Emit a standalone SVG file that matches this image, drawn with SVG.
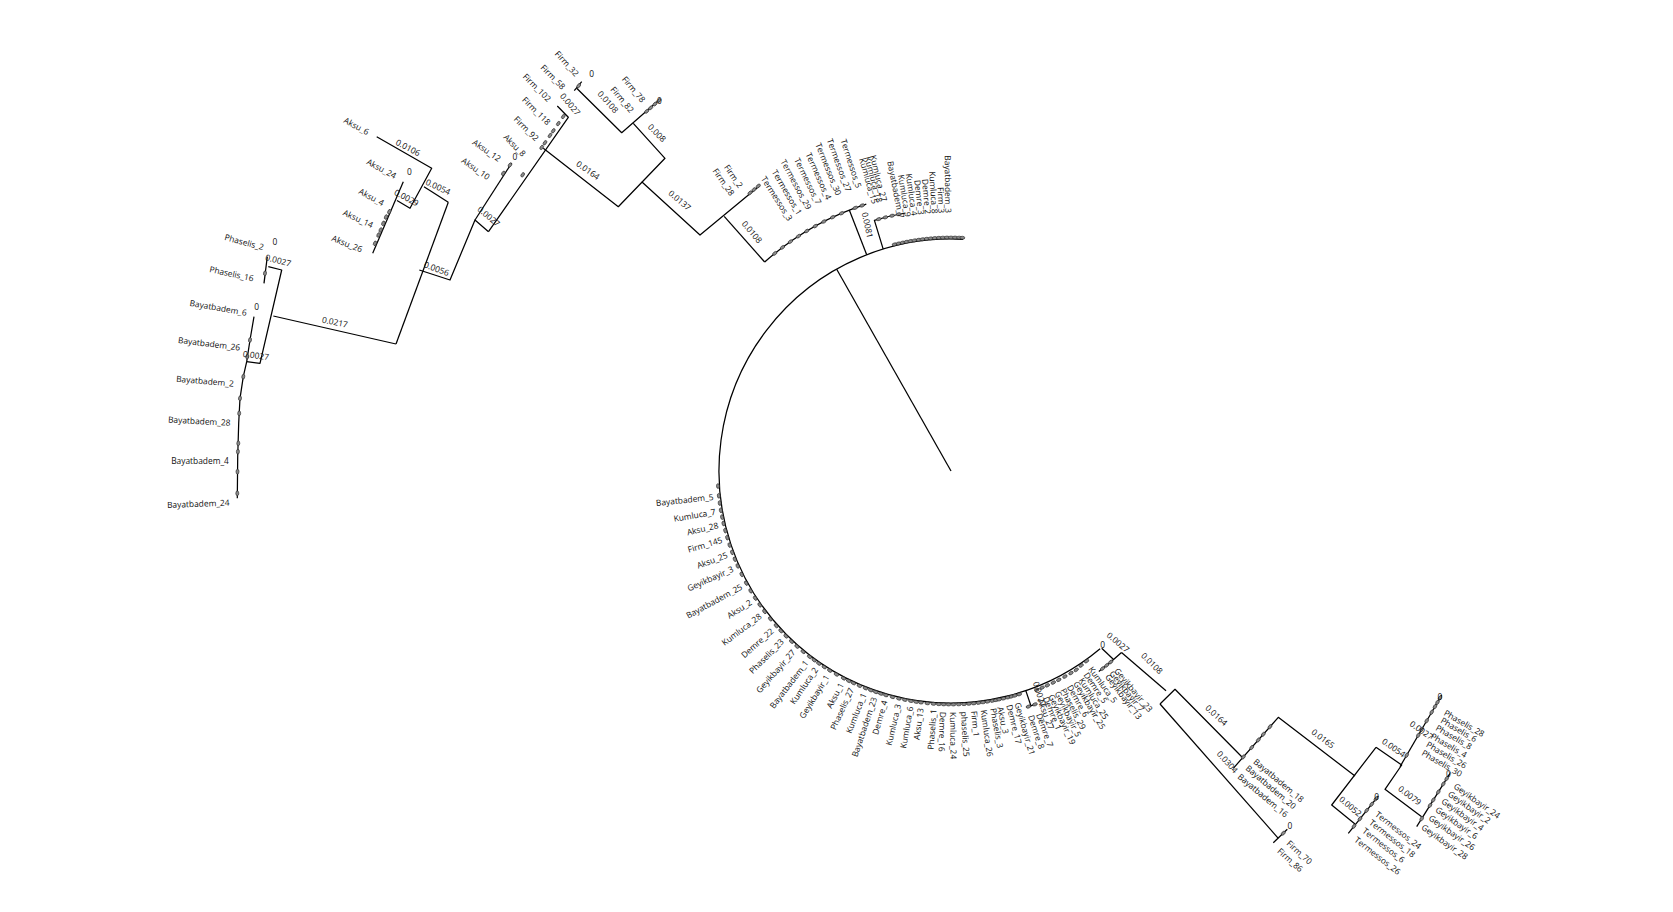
<svg xmlns="http://www.w3.org/2000/svg" width="1673" height="912" viewBox="0 0 1673 912">
<defs>
<style>
.e{stroke:#000;stroke-width:1.25;fill:none;stroke-linejoin:round}
.t{font-family:"Open Sans","Liberation Sans",Arial,sans-serif;font-size:8.4px;fill:#111;dominant-baseline:central}
.c{text-anchor:middle}
.f{text-anchor:end}
.lf{fill:#8a8a8a;stroke:#222;stroke-width:0.6}
</style>
<ellipse id="o" cx="0" cy="0" rx="1.5" ry="2.4" class="lf"/>
</defs>
<rect width="1673" height="912" fill="#fff"/>

<g id="connectors" class="e">
<path d="M951,471 L836.7,269.3"/>
<path d="M1100.1,648.7 A232,232 0 1 1 963.1,239.3"/>
<path d="M764.7,262 A280,280 0 0 1 866.3,204.1"/>
<path d="M866.7,254.8 L849.3,210.1"/>
<path d="M883.2,249.1 L874.4,220.4 A262,262 0 0 1 905.5,213"/>
<path d="M376.7,136.7 L431.7,168.3 L410,208.3 L397,200.5"/>
<path d="M424,186.7 L448.3,202.3"/>
<path d="M403.3,181.7 L372.7,253.3"/>
<path d="M396,344 L448.3,202.3"/>
<path d="M273.3,316 L396,344"/>
<path d="M419.3,270 L450,280 L475,220 L488.5,231.7"/>
<path d="M475,220 L511.7,163"/>
<path d="M268.3,266.7 L281.7,270 L260,363.3 L246.7,361.7"/>
<path d="M267.3,256.7 L264,283.3"/>
<path d="M254,316.7 L250,340 L246.7,361.7 L243.3,376.7 L240,398.3 L238.7,423.3 L237.7,456.7 L237.3,498.3"/>
<path d="M488.5,231.7 L568.3,117.3 L557.3,106"/>
<path d="M574.3,90.7 L581.7,81.7"/>
<path d="M576.7,88.3 L621.7,132.7 L660,99.3"/>
<path d="M633.3,123.3 L665,158.3 L618.3,206.7 L543.3,148.3"/>
<path d="M641.7,181.7 L700,235 L759.3,186"/>
<path d="M724.2,216.4 L764.7,262"/>
<path d="M1101.7,648.3 L1113.3,659.3"/>
<path d="M1121.5,652.5 A249,249 0 0 1 1098.8,671.4"/>
<path d="M1121.5,652.5 L1166,690.7"/>
<path d="M1160,704 L1175,689.3 L1242,757"/>
<path d="M1233.3,768.3 L1278.3,717.3 L1355,776"/>
<path d="M1160,704 L1278.3,838.3"/>
<path d="M1273.3,842.7 L1287.3,829.3"/>
<path d="M1376,747.3 L1331.7,805 L1355,824"/>
<path d="M1348.3,833.3 L1378.3,796"/>
<path d="M1376,747.3 L1401.7,765 L1385,789.3 L1421.7,816.7"/>
<path d="M1400,766.7 L1441.7,695"/>
<path d="M1416.7,826.7 L1450,773.3"/>
<path d="M1025.8,690.6 L1030.9,705.8"/>
<path d="M1036.6,703.8 A248,248 0 0 1 1026.4,707.2"/>
</g>

<g id="leaf-marks">
<use href="#o" transform="rotate(176.3 951 471) translate(1184.5 471)"/>
<use href="#o" transform="rotate(173.9 951 471) translate(1184.5 471)"/>
<use href="#o" transform="rotate(172.1 951 471) translate(1184.5 471)"/>
<use href="#o" transform="rotate(170.3 951 471) translate(1184.5 471)"/>
<use href="#o" transform="rotate(168.6 951 471) translate(1184.5 471)"/>
<use href="#o" transform="rotate(167 951 471) translate(1184.5 471)"/>
<use href="#o" transform="rotate(165.2 951 471) translate(1184.5 471)"/>
<use href="#o" transform="rotate(163.4 951 471) translate(1184.5 471)"/>
<use href="#o" transform="rotate(161.5 951 471) translate(1184.5 471)"/>
<use href="#o" transform="rotate(159.6 951 471) translate(1184.5 471)"/>
<use href="#o" transform="rotate(157.8 951 471) translate(1184.5 471)"/>
<use href="#o" transform="rotate(156 951 471) translate(1184.5 471)"/>
<use href="#o" transform="rotate(153.7 951 471) translate(1184.5 471)"/>
<use href="#o" transform="rotate(151.3 951 471) translate(1184.5 471)"/>
<use href="#o" transform="rotate(149.1 951 471) translate(1184.5 471)"/>
<use href="#o" transform="rotate(147 951 471) translate(1184.5 471)"/>
<use href="#o" transform="rotate(145 951 471) translate(1184.5 471)"/>
<use href="#o" transform="rotate(143 951 471) translate(1184.5 471)"/>
<use href="#o" transform="rotate(140.7 951 471) translate(1184.5 471)"/>
<use href="#o" transform="rotate(138.5 951 471) translate(1184.5 471)"/>
<use href="#o" transform="rotate(136.8 951 471) translate(1184.5 471)"/>
<use href="#o" transform="rotate(135 951 471) translate(1184.5 471)"/>
<use href="#o" transform="rotate(133.1 951 471) translate(1184.5 471)"/>
<use href="#o" transform="rotate(131.3 951 471) translate(1184.5 471)"/>
<use href="#o" transform="rotate(129.3 951 471) translate(1184.5 471)"/>
<use href="#o" transform="rotate(127.3 951 471) translate(1184.5 471)"/>
<use href="#o" transform="rotate(125.9 951 471) translate(1184.5 471)"/>
<use href="#o" transform="rotate(124.5 951 471) translate(1184.5 471)"/>
<use href="#o" transform="rotate(122.9 951 471) translate(1184.5 471)"/>
<use href="#o" transform="rotate(121.3 951 471) translate(1184.5 471)"/>
<use href="#o" transform="rotate(119.4 951 471) translate(1184.5 471)"/>
<use href="#o" transform="rotate(117.4 951 471) translate(1184.5 471)"/>
<use href="#o" transform="rotate(116 951 471) translate(1184.5 471)"/>
<use href="#o" transform="rotate(114.7 951 471) translate(1184.5 471)"/>
<use href="#o" transform="rotate(113.1 951 471) translate(1184.5 471)"/>
<use href="#o" transform="rotate(111.5 951 471) translate(1184.5 471)"/>
<use href="#o" transform="rotate(110.1 951 471) translate(1184.5 471)"/>
<use href="#o" transform="rotate(108.8 951 471) translate(1184.5 471)"/>
<use href="#o" transform="rotate(107.5 951 471) translate(1184.5 471)"/>
<use href="#o" transform="rotate(106.2 951 471) translate(1184.5 471)"/>
<use href="#o" transform="rotate(104.5 951 471) translate(1184.5 471)"/>
<use href="#o" transform="rotate(102.9 951 471) translate(1184.5 471)"/>
<use href="#o" transform="rotate(101.4 951 471) translate(1184.5 471)"/>
<use href="#o" transform="rotate(99.9 951 471) translate(1184.5 471)"/>
<use href="#o" transform="rotate(98.6 951 471) translate(1184.5 471)"/>
<use href="#o" transform="rotate(97.4 951 471) translate(1184.5 471)"/>
<use href="#o" transform="rotate(95.8 951 471) translate(1184.5 471)"/>
<use href="#o" transform="rotate(94.3 951 471) translate(1184.5 471)"/>
<use href="#o" transform="rotate(93 951 471) translate(1184.5 471)"/>
<use href="#o" transform="rotate(91.8 951 471) translate(1184.5 471)"/>
<use href="#o" transform="rotate(90.6 951 471) translate(1184.5 471)"/>
<use href="#o" transform="rotate(89.4 951 471) translate(1184.5 471)"/>
<use href="#o" transform="rotate(88.1 951 471) translate(1184.5 471)"/>
<use href="#o" transform="rotate(86.8 951 471) translate(1184.5 471)"/>
<use href="#o" transform="rotate(85.6 951 471) translate(1184.5 471)"/>
<use href="#o" transform="rotate(84.4 951 471) translate(1184.5 471)"/>
<use href="#o" transform="rotate(83.2 951 471) translate(1184.5 471)"/>
<use href="#o" transform="rotate(82.1 951 471) translate(1184.5 471)"/>
<use href="#o" transform="rotate(81 951 471) translate(1184.5 471)"/>
<use href="#o" transform="rotate(79.8 951 471) translate(1184.5 471)"/>
<use href="#o" transform="rotate(78.9 951 471) translate(1184.5 471)"/>
<use href="#o" transform="rotate(78.1 951 471) translate(1184.5 471)"/>
<use href="#o" transform="rotate(77 951 471) translate(1184.5 471)"/>
<use href="#o" transform="rotate(75.9 951 471) translate(1184.5 471)"/>
<use href="#o" transform="rotate(75 951 471) translate(1184.5 471)"/>
<use href="#o" transform="rotate(74.1 951 471) translate(1184.5 471)"/>
<use href="#o" transform="rotate(73 951 471) translate(1184.5 471)"/>
<use href="#o" transform="rotate(71.8 951 471) translate(1199 471)"/>
<use href="#o" transform="rotate(70.2 951 471) translate(1199 471)"/>
<use href="#o" transform="rotate(68.6 951 471) translate(1186 471)"/>
<use href="#o" transform="rotate(67.2 951 471) translate(1186 471)"/>
<use href="#o" transform="rotate(65.8 951 471) translate(1186 471)"/>
<use href="#o" transform="rotate(64.2 951 471) translate(1186 471)"/>
<use href="#o" transform="rotate(62.7 951 471) translate(1186 471)"/>
<use href="#o" transform="rotate(61 951 471) translate(1186 471)"/>
<use href="#o" transform="rotate(59.3 951 471) translate(1186 471)"/>
<use href="#o" transform="rotate(57.8 951 471) translate(1186 471)"/>
<use href="#o" transform="rotate(56.2 951 471) translate(1185 471)"/>
<use href="#o" transform="rotate(54.5 951 471) translate(1184.5 471)"/>
<use href="#o" transform="rotate(52.5 951 471) translate(1200 471)"/>
<use href="#o" transform="rotate(51.3 951 471) translate(1200 471)"/>
<use href="#o" transform="rotate(50.1 951 471) translate(1200 471)"/>
<use href="#o" transform="rotate(-104 951 471) translate(1184.5 471)"/>
<use href="#o" transform="rotate(-103 951 471) translate(1184.5 471)"/>
<use href="#o" transform="rotate(-102 951 471) translate(1184.5 471)"/>
<use href="#o" transform="rotate(-101 951 471) translate(1184.5 471)"/>
<use href="#o" transform="rotate(-100 951 471) translate(1184.5 471)"/>
<use href="#o" transform="rotate(-99 951 471) translate(1184.5 471)"/>
<use href="#o" transform="rotate(-98 951 471) translate(1184.5 471)"/>
<use href="#o" transform="rotate(-97 951 471) translate(1184.5 471)"/>
<use href="#o" transform="rotate(-96 951 471) translate(1184.5 471)"/>
<use href="#o" transform="rotate(-95 951 471) translate(1184.5 471)"/>
<use href="#o" transform="rotate(-94 951 471) translate(1184.5 471)"/>
<use href="#o" transform="rotate(-93 951 471) translate(1184.5 471)"/>
<use href="#o" transform="rotate(-92 951 471) translate(1184.5 471)"/>
<use href="#o" transform="rotate(-91 951 471) translate(1184.5 471)"/>
<use href="#o" transform="rotate(-90 951 471) translate(1184.5 471)"/>
<use href="#o" transform="rotate(-89 951 471) translate(1184.5 471)"/>
<use href="#o" transform="rotate(-88 951 471) translate(1184.5 471)"/>
<use href="#o" transform="rotate(-87.2 951 471) translate(1184.5 471)"/>
<use href="#o" transform="rotate(-129 951 471) translate(1231 471)"/>
<use href="#o" transform="rotate(-127 951 471) translate(1231 471)"/>
<use href="#o" transform="rotate(-125 951 471) translate(1231 471)"/>
<use href="#o" transform="rotate(-123 951 471) translate(1231 471)"/>
<use href="#o" transform="rotate(-121 951 471) translate(1231 471)"/>
<use href="#o" transform="rotate(-119 951 471) translate(1231 471)"/>
<use href="#o" transform="rotate(-117 951 471) translate(1231 471)"/>
<use href="#o" transform="rotate(-115 951 471) translate(1231 471)"/>
<use href="#o" transform="rotate(-113 951 471) translate(1231 471)"/>
<use href="#o" transform="rotate(-110 951 471) translate(1231 471)"/>
<use href="#o" transform="rotate(-108.5 951 471) translate(1231 471)"/>
<use href="#o" transform="rotate(-106 951 471) translate(1213 471)"/>
<use href="#o" transform="rotate(-104.5 951 471) translate(1213 471)"/>
<use href="#o" transform="rotate(-103 951 471) translate(1213 471)"/>
<use href="#o" transform="rotate(-101.5 951 471) translate(1213 471)"/>
<use href="#o" transform="translate(389.3 211.7) rotate(23)"/>
<use href="#o" transform="translate(386 217) rotate(23)"/>
<use href="#o" transform="translate(383.3 223.3) rotate(23)"/>
<use href="#o" transform="translate(380.7 230) rotate(23)"/>
<use href="#o" transform="translate(378.5 235) rotate(23)"/>
<use href="#o" transform="translate(375 243.3) rotate(23)"/>
<use href="#o" transform="translate(265 273.3) rotate(7)"/>
<use href="#o" transform="translate(250 340) rotate(10)"/>
<use href="#o" transform="translate(247.3 356.7) rotate(9)"/>
<use href="#o" transform="translate(243.3 376.7) rotate(8)"/>
<use href="#o" transform="translate(240 398.3) rotate(5)"/>
<use href="#o" transform="translate(239.2 413.3) rotate(3)"/>
<use href="#o" transform="translate(238.3 443.3) rotate(2)"/>
<use href="#o" transform="translate(237.9 451.7) rotate(1)"/>
<use href="#o" transform="translate(237.5 471.7) rotate(1)"/>
<use href="#o" transform="translate(237.3 493.3) rotate(0)"/>
<use href="#o" transform="translate(503.3 173.3) rotate(33)"/>
<use href="#o" transform="translate(510 165) rotate(33)"/>
<use href="#o" transform="translate(522.7 174.8) rotate(35)"/>
<use href="#o" transform="translate(541.7 147.4) rotate(35)"/>
<use href="#o" transform="translate(545 142.7) rotate(35)"/>
<use href="#o" transform="translate(550 135.5) rotate(35)"/>
<use href="#o" transform="translate(553.3 130.8) rotate(35)"/>
<use href="#o" transform="translate(558.3 123.6) rotate(35)"/>
<use href="#o" transform="translate(563.3 116.5) rotate(35)"/>
<use href="#o" transform="translate(578.7 85.7) rotate(39)"/>
<use href="#o" transform="translate(646.7 111.3) rotate(49)"/>
<use href="#o" transform="translate(650.7 107.8) rotate(49)"/>
<use href="#o" transform="translate(655 104) rotate(49)"/>
<use href="#o" transform="translate(659 100.5) rotate(49)"/>
<use href="#o" transform="translate(750 192.9) rotate(50)"/>
<use href="#o" transform="translate(754 189.6) rotate(50)"/>
<use href="#o" transform="translate(758.3 186) rotate(50)"/>
<use href="#o" transform="translate(1243.3 757) rotate(41)"/>
<use href="#o" transform="translate(1251.7 747.5) rotate(41)"/>
<use href="#o" transform="translate(1258.3 740) rotate(41)"/>
<use href="#o" transform="translate(1263.3 734.3) rotate(41)"/>
<use href="#o" transform="translate(1270 726.7) rotate(41)"/>
<use href="#o" transform="translate(1283.3 833.2) rotate(46)"/>
<use href="#o" transform="translate(1354 826.2) rotate(39)"/>
<use href="#o" transform="translate(1360 818.8) rotate(39)"/>
<use href="#o" transform="translate(1366.7 810.4) rotate(39)"/>
<use href="#o" transform="translate(1371.7 804.2) rotate(39)"/>
<use href="#o" transform="translate(1376 798.8) rotate(39)"/>
<use href="#o" transform="translate(1406.7 755.2) rotate(30)"/>
<use href="#o" transform="translate(1418.3 735.3) rotate(30)"/>
<use href="#o" transform="translate(1421.7 729.4) rotate(30)"/>
<use href="#o" transform="translate(1426.7 720.8) rotate(30)"/>
<use href="#o" transform="translate(1431.7 712.2) rotate(30)"/>
<use href="#o" transform="translate(1435 706.6) rotate(30)"/>
<use href="#o" transform="translate(1437.5 702.3) rotate(30)"/>
<use href="#o" transform="translate(1440 697.9) rotate(30)"/>
<use href="#o" transform="translate(1421.7 818.7) rotate(32)"/>
<use href="#o" transform="translate(1430 805.4) rotate(32)"/>
<use href="#o" transform="translate(1433.3 800) rotate(32)"/>
<use href="#o" transform="translate(1438.3 792) rotate(32)"/>
<use href="#o" transform="translate(1443.3 784) rotate(32)"/>
<use href="#o" transform="translate(1446.7 778.6) rotate(32)"/>
</g>

<g id="clade-west">
<text class="t c" x="356.7" y="125.7" transform="rotate(28 356.7 125.7)">Aksu_6</text>
<text class="t c" x="381.7" y="168.3" transform="rotate(28 381.7 168.3)">Aksu_24</text>
<text class="t c" x="371.7" y="196.7" transform="rotate(28 371.7 196.7)">Aksu_4</text>
<text class="t c" x="358.3" y="218.3" transform="rotate(25 358.3 218.3)">Aksu_14</text>
<text class="t c" x="347.3" y="243.3" transform="rotate(22 347.3 243.3)">Aksu_26</text>
<text class="t c" x="244.3" y="241.7" transform="rotate(15 244.3 241.7)">Phaselis_2</text>
<text class="t c" x="231.7" y="273.3" transform="rotate(12 231.7 273.3)">Phaselis_16</text>
<text class="t c" x="218.3" y="307.3" transform="rotate(10 218.3 307.3)">Bayatbadem_6</text>
<text class="t c" x="209.3" y="343.3" transform="rotate(7 209.3 343.3)">Bayatbadem_26</text>
<text class="t c" x="205" y="380.7" transform="rotate(5 205 380.7)">Bayatbadem_2</text>
<text class="t c" x="199.3" y="420.7" transform="rotate(3 199.3 420.7)">Bayatbadem_28</text>
<text class="t c" x="200" y="460.7">Bayatbadem_4</text>
<text class="t c" x="198.3" y="503.3" transform="rotate(-2 198.3 503.3)">Bayatbadem_24</text>
<text class="t c" x="487" y="150" transform="rotate(35 487 150)">Aksu_12</text>
<text class="t c" x="476" y="168.3" transform="rotate(35 476 168.3)">Aksu_10</text>
<text class="t c" x="408.3" y="147.3" transform="rotate(28 408.3 147.3)">0.0106</text>
<text class="t c" x="409.3" y="171">0</text>
<text class="t c" x="406.7" y="197.3" transform="rotate(28 406.7 197.3)">0.0029</text>
<text class="t c" x="438.3" y="186.7" transform="rotate(25 438.3 186.7)">0.0054</text>
<text class="t c" x="275" y="241.7">0</text>
<text class="t c" x="278.3" y="260" transform="rotate(15 278.3 260)">0.0027</text>
<text class="t c" x="256.7" y="306">0</text>
<text class="t c" x="335" y="321.7" transform="rotate(12 335 321.7)">0.0217</text>
<text class="t c" x="436.7" y="268.3" transform="rotate(20 436.7 268.3)">0.0056</text>
<text class="t c" x="256" y="355" transform="rotate(8 256 355)">0.0027</text>
<text class="t c" x="489" y="216" transform="rotate(40 489 216)">0.0027</text>
</g>

<g id="clade-firm">
<text class="t c" x="567.3" y="63.3" transform="rotate(48 567.3 63.3)">Firm_32</text>
<text class="t c" x="553.3" y="76.7" transform="rotate(45 553.3 76.7)">Firm_58</text>
<text class="t c" x="537.3" y="87.3" transform="rotate(45 537.3 87.3)">Firm_102</text>
<text class="t c" x="536.7" y="110.7" transform="rotate(45 536.7 110.7)">Firm_118</text>
<text class="t c" x="526.7" y="128.3" transform="rotate(45 526.7 128.3)">Firm_92</text>
<text class="t c" x="515" y="145" transform="rotate(45 515 145)">Aksu_8</text>
<text class="t c" x="515" y="156.7">0</text>
<text class="t c" x="634" y="89" transform="rotate(50 634 89)">Firm_78</text>
<text class="t c" x="622.7" y="99.3" transform="rotate(50 622.7 99.3)">Firm_82</text>
<text class="t c" x="734" y="176" transform="rotate(55 734 176)">Firm_2</text>
<text class="t c" x="724" y="181.7" transform="rotate(55 724 181.7)">Firm_28</text>
<text class="t c" x="591.7" y="73.3">0</text>
<text class="t c" x="570.7" y="104" transform="rotate(50 570.7 104)">0.0027</text>
<text class="t c" x="608.3" y="101.7" transform="rotate(48 608.3 101.7)">0.0108</text>
<text class="t c" x="659.3" y="100.7">0</text>
<text class="t c" x="657.3" y="132.7" transform="rotate(45 657.3 132.7)">0.008</text>
<text class="t c" x="588.3" y="170" transform="rotate(35 588.3 170)">0.0164</text>
<text class="t c" x="680" y="200" transform="rotate(40 680 200)">0.0137</text>
<text class="t c" x="752.3" y="231.7" transform="rotate(50 752.3 231.7)">0.0108</text>
</g>

<g id="clade-top">
<text class="t f" x="1249" y="471" transform="rotate(-122.5 951 471) rotate(180 1249 471)">Termessos_3</text>
<text class="t f" x="1249" y="471" transform="rotate(-120.4 951 471) rotate(180 1249 471)">Termessos_1</text>
<text class="t f" x="1249" y="471" transform="rotate(-118.3 951 471) rotate(180 1249 471)">Termessos_29</text>
<text class="t f" x="1249" y="471" transform="rotate(-116.2 951 471) rotate(180 1249 471)">Termessos_7</text>
<text class="t f" x="1249" y="471" transform="rotate(-114.1 951 471) rotate(180 1249 471)">Termessos_4</text>
<text class="t f" x="1249" y="471" transform="rotate(-112 951 471) rotate(180 1249 471)">Termessos_30</text>
<text class="t f" x="1249" y="471" transform="rotate(-110 951 471) rotate(180 1249 471)">Termessos_27</text>
<text class="t f" x="1249" y="471" transform="rotate(-107.9 951 471) rotate(180 1249 471)">Termessos_5</text>
<text class="t f" x="1229" y="471" transform="rotate(-105.8 951 471) rotate(180 1229 471)">Kumluca_15</text>
<text class="t f" x="1229" y="471" transform="rotate(-104.8 951 471) rotate(180 1229 471)">Kumluca_18</text>
<text class="t f" x="1229" y="471" transform="rotate(-103.8 951 471) rotate(180 1229 471)">Kumluca_27</text>
<text class="t f" x="1209" y="471" transform="rotate(-101 951 471) rotate(180 1209 471)">Bayatbadem_7</text>
<text class="t f" x="1209" y="471" transform="rotate(-99.5 951 471) rotate(180 1209 471)">Kumluca_9</text>
<text class="t f" x="1209" y="471" transform="rotate(-98 951 471) rotate(180 1209 471)">Kumluca_4</text>
<text class="t f" x="1209" y="471" transform="rotate(-96.5 951 471) rotate(180 1209 471)">Demre_3</text>
<text class="t f" x="1209" y="471" transform="rotate(-95 951 471) rotate(180 1209 471)">Demre_2</text>
<text class="t f" x="1209" y="471" transform="rotate(-93.5 951 471) rotate(180 1209 471)">Kumluca_8</text>
<text class="t f" x="1209" y="471" transform="rotate(-92 951 471) rotate(180 1209 471)">Firm_3</text>
<text class="t f" x="1209" y="471" transform="rotate(-90.5 951 471) rotate(180 1209 471)">Bayatbadem_3</text>
<text class="t c" x="868" y="225" transform="rotate(78 868 225)">0.0081</text>
</g>

<g id="clade-arc-west">
<text class="t f" x="1190" y="471" transform="rotate(173.9 951 471) rotate(180 1190 471)">Bayatbadem_5</text>
<text class="t f" x="1190" y="471" transform="rotate(170.3 951 471) rotate(180 1190 471)">Kumluca_7</text>
<text class="t f" x="1190" y="471" transform="rotate(167 951 471) rotate(180 1190 471)">Aksu_28</text>
<text class="t f" x="1190" y="471" transform="rotate(163.4 951 471) rotate(180 1190 471)">Firm_145</text>
<text class="t f" x="1190" y="471" transform="rotate(159.6 951 471) rotate(180 1190 471)">Aksu_25</text>
<text class="t f" x="1190" y="471" transform="rotate(156 951 471) rotate(180 1190 471)">Geyikbayir_3</text>
<text class="t f" x="1190" y="471" transform="rotate(151.3 951 471) rotate(180 1190 471)">Bayatbadem_25</text>
<text class="t f" x="1190" y="471" transform="rotate(147 951 471) rotate(180 1190 471)">Aksu_2</text>
<text class="t f" x="1190" y="471" transform="rotate(143 951 471) rotate(180 1190 471)">Kumluca_28</text>
<text class="t f" x="1190" y="471" transform="rotate(138.5 951 471) rotate(180 1190 471)">Demre_22</text>
<text class="t f" x="1190" y="471" transform="rotate(135 951 471) rotate(180 1190 471)">Phaselis_23</text>
<text class="t f" x="1190" y="471" transform="rotate(131.3 951 471) rotate(180 1190 471)">Geyikbayir_27</text>
<text class="t f" x="1190" y="471" transform="rotate(127.3 951 471) rotate(180 1190 471)">Bayatbadem_1</text>
<text class="t f" x="1190" y="471" transform="rotate(124.5 951 471) rotate(180 1190 471)">Kumluca_2</text>
<text class="t f" x="1190" y="471" transform="rotate(121.3 951 471) rotate(180 1190 471)">Geyikbayir_1</text>
<text class="t f" x="1190" y="471" transform="rotate(117.4 951 471) rotate(180 1190 471)">Aksu_1</text>
<text class="t f" x="1190" y="471" transform="rotate(114.7 951 471) rotate(180 1190 471)">Phaselis_27</text>
<text class="t f" x="1190" y="471" transform="rotate(111.5 951 471) rotate(180 1190 471)">Kumluca_1</text>
<text class="t f" x="1190" y="471" transform="rotate(108.8 951 471) rotate(180 1190 471)">Bayatbadem_23</text>
<text class="t f" x="1190" y="471" transform="rotate(106.2 951 471) rotate(180 1190 471)">Demre_4</text>
<text class="t f" x="1190" y="471" transform="rotate(102.9 951 471) rotate(180 1190 471)">Kumluca_3</text>
<text class="t f" x="1190" y="471" transform="rotate(99.9 951 471) rotate(180 1190 471)">Kumluca_6</text>
<text class="t f" x="1190" y="471" transform="rotate(97.4 951 471) rotate(180 1190 471)">Aksu_13</text>
<text class="t f" x="1190" y="471" transform="rotate(94.3 951 471) rotate(180 1190 471)">Phaselis_1</text>
</g>

<g id="clade-arc-east">
<text class="t" x="1192" y="471" transform="rotate(91.8 951 471)">Demre_16</text>
<text class="t" x="1192" y="471" transform="rotate(89.4 951 471)">Kumluca_24</text>
<text class="t" x="1192" y="471" transform="rotate(86.8 951 471)">phaselis_25</text>
<text class="t" x="1192" y="471" transform="rotate(84.4 951 471)">Firm_1</text>
<text class="t" x="1192" y="471" transform="rotate(82.1 951 471)">Kumluca_26</text>
<text class="t" x="1192" y="471" transform="rotate(79.8 951 471)">Phaselis_3</text>
<text class="t" x="1192" y="471" transform="rotate(78.1 951 471)">Aksu_3</text>
<text class="t" x="1192" y="471" transform="rotate(75.9 951 471)">Demre_17</text>
<text class="t" x="1192" y="471" transform="rotate(73.9 951 471)">Geyikbayir_21</text>
<text class="t" x="1208" y="471" transform="rotate(71.8 951 471)">Demre_8</text>
<text class="t" x="1209" y="471" transform="rotate(70 951 471)">Demre_7</text>
<text class="t" x="1196" y="471" transform="rotate(68.6 951 471)">Aksu_27</text>
<text class="t" x="1196" y="471" transform="rotate(67.2 951 471)">Demre_1</text>
<text class="t" x="1196" y="471" transform="rotate(65.8 951 471)">Geyikbayir_19</text>
<text class="t" x="1196" y="471" transform="rotate(64.2 951 471)">Geyikbayir_5</text>
<text class="t" x="1196" y="471" transform="rotate(62.7 951 471)">Phaselis_29</text>
<text class="t" x="1196" y="471" transform="rotate(61 951 471)">Demre_6</text>
<text class="t" x="1196" y="471" transform="rotate(59.3 951 471)">Geyikbayir_25</text>
<text class="t" x="1196" y="471" transform="rotate(57.8 951 471)">Kumluca_25</text>
<text class="t" x="1194" y="471" transform="rotate(56.2 951 471)">Demre_5</text>
<text class="t" x="1192" y="471" transform="rotate(54.5 951 471)">Kumluca_5</text>
<text class="t" x="1208" y="471" transform="rotate(52.5 951 471)">Geyikbayir_13</text>
<text class="t" x="1208" y="471" transform="rotate(51.3 951 471)">Geyikbayir_7</text>
<text class="t" x="1209" y="471" transform="rotate(50.1 951 471)">Geyikbayir_23</text>
<text class="t c" x="1040" y="694" transform="rotate(72 1040 694)">0.0027</text>
</g>

<g id="clade-east">
<text class="t c" x="1102.7" y="644">0</text>
<text class="t c" x="1118.3" y="642" transform="rotate(40 1118.3 642)">0.0027</text>
<text class="t c" x="1152.3" y="663" transform="rotate(45 1152.3 663)">0.0108</text>
<text class="t c" x="1216.7" y="715" transform="rotate(42 1216.7 715)">0.0164</text>
<text class="t c" x="1227.7" y="761.7" transform="rotate(48 1227.7 761.7)">0.0304</text>
<text class="t c" x="1323.3" y="738.3" transform="rotate(37 1323.3 738.3)">0.0165</text>
<text class="t c" x="1350.7" y="806" transform="rotate(40 1350.7 806)">0.0052</text>
<text class="t c" x="1394" y="747.3" transform="rotate(35 1394 747.3)">0.0054</text>
<text class="t c" x="1410" y="795" transform="rotate(37 1410 795)">0.0079</text>
<text class="t c" x="1421.7" y="730" transform="rotate(35 1421.7 730)">0.0027</text>
<text class="t c" x="1440" y="696.7">0</text>
<text class="t c" x="1448.3" y="773.3">0</text>
<text class="t c" x="1376.7" y="796.7">0</text>
<text class="t c" x="1290" y="825.7">0</text>
<text class="t" x="1255" y="760" transform="rotate(40 1255 760)">Bayatbadem_18</text>
<text class="t" x="1247.3" y="766.7" transform="rotate(40 1247.3 766.7)">Bayatbadem_20</text>
<text class="t" x="1239.3" y="775" transform="rotate(40 1239.3 775)">Bayatbadem_16</text>
<text class="t" x="1288.3" y="841.7" transform="rotate(42 1288.3 841.7)">Firm_70</text>
<text class="t" x="1279" y="849.3" transform="rotate(42 1279 849.3)">Firm_86</text>
<text class="t" x="1376.7" y="812.7" transform="rotate(38 1376.7 812.7)">Termessos_24</text>
<text class="t" x="1370.7" y="821" transform="rotate(38 1370.7 821)">Termessos_18</text>
<text class="t" x="1364" y="829.3" transform="rotate(38 1364 829.3)">Termessos_6</text>
<text class="t" x="1356" y="838.3" transform="rotate(38 1356 838.3)">Termessos_26</text>
<text class="t" x="1445" y="711.7" transform="rotate(30 1445 711.7)">Phaselis_28</text>
<text class="t" x="1441.7" y="719.3" transform="rotate(30 1441.7 719.3)">Phaselis_6</text>
<text class="t" x="1436.7" y="726.7" transform="rotate(30 1436.7 726.7)">Phaselis_8</text>
<text class="t" x="1431.7" y="735" transform="rotate(30 1431.7 735)">Phaselis_4</text>
<text class="t" x="1427.3" y="743.3" transform="rotate(30 1427.3 743.3)">Phaselis_26</text>
<text class="t" x="1422.7" y="751.7" transform="rotate(30 1422.7 751.7)">Phaselis_30</text>
<text class="t" x="1455" y="785" transform="rotate(35 1455 785)">Geyikbayir_24</text>
<text class="t" x="1449.3" y="792.7" transform="rotate(35 1449.3 792.7)">Geyikbayir_2</text>
<text class="t" x="1442.7" y="800" transform="rotate(35 1442.7 800)">Geyikbayir_4</text>
<text class="t" x="1436.7" y="808.3" transform="rotate(35 1436.7 808.3)">Geyikbayir_6</text>
<text class="t" x="1430" y="816.7" transform="rotate(35 1430 816.7)">Geyikbayir_26</text>
<text class="t" x="1422.7" y="826" transform="rotate(35 1422.7 826)">Geyikbayir_28</text>
</g>
</svg>
